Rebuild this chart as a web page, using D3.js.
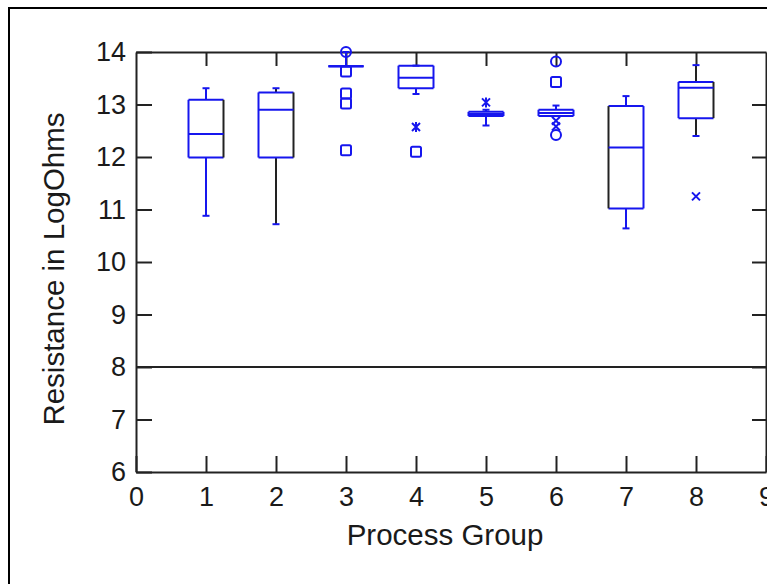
<!DOCTYPE html>
<html>
<meta charset="utf-8">
<head>
<style>
body { margin: 0; background: #fff; }
text { font-family: "Liberation Sans", Arial, sans-serif; fill: #1a1a1a; }
</style>
<script src="https://d3js.org/d3.v7.min.js"></script>
</head>
<body>
<svg width="767" height="584"></svg>
<script>
// process groups and box stats (LogOhms)
var groups    = [1, 2, 3, 4, 5, 6, 7, 8];
var whiskerLo = [10.88, 10.72, 13.73, 13.20, 12.60, 12.78, 10.64, 12.40];
var q1        = [11.99, 11.99, 13.73, 13.31, 12.78, 12.78, 11.02, 12.74];
var median    = [12.44, 12.90, 13.73, 13.51, 12.82, 12.84, 12.18, 13.32];
var q3        = [13.09, 13.23, 13.73, 13.74, 12.86, 12.90, 12.97, 13.43];
var whiskerHi = [13.31, 13.31, 14.00, 13.74, 12.90, 12.98, 13.16, 13.75];

// outliers: [group, value, marker]
var outliers = [
  [3, 14.00, "o"], [3, 13.63, "s"], [3, 13.21, "s"], [3, 13.02, "s"], [3, 12.13, "s"],
  [4, 12.57, "*"], [4, 12.10, "s"],
  [5, 13.04, "*"],
  [6, 13.82, "o"], [6, 13.43, "s"], [6, 12.69, "x"], [6, 12.58, "x"], [6, 12.42, "o"],
  [8, 11.25, "x"]
];

var xTicks = [0, 1, 2, 3, 4, 5, 6, 7, 8, 9];
var yTicks = [6, 7, 8, 9, 10, 11, 12, 13, 14];
var refLine = 8;

var blue = "#1616ee", dark = "#222";
// edges that came out black in the original
var darkParts = {1: ["right"], 2: ["right", "whiskers"], 7: ["left"], 8: ["right", "whiskers"]};

var svg = d3.select("svg");

var x = d3.scaleLinear().domain([0, 9]).range([136, 766]);
var y = d3.scaleLinear().domain([6, 14]).range([472, 52]);

// outer frame
svg.append("rect")
    .attr("x", 9).attr("y", 8).attr("width", 800).attr("height", 620)
    .attr("fill", "none").attr("stroke", "#000").attr("stroke-width", 2);

function styleAxis(g) {
  g.select(".domain").attr("stroke", dark).attr("stroke-width", 2);
  g.selectAll(".tick line").attr("stroke", dark).attr("stroke-width", 2);
  g.selectAll("text").attr("font-size", 27).attr("fill", "#1a1a1a")
    .attr("font-family", "Liberation Sans, Arial, sans-serif");
}

svg.append("g")
    .attr("transform", "translate(0," + y(6) + ")")
    .call(d3.axisBottom(x).tickValues(xTicks).tickSize(-16).tickSizeOuter(0).tickPadding(15).tickFormat(d3.format("d")))
    .call(styleAxis);

svg.append("g")
    .attr("transform", "translate(" + x(0) + ",0)")
    .call(d3.axisLeft(y).tickValues(yTicks).tickSize(-16).tickSizeOuter(0).tickPadding(10).tickFormat(d3.format("d")))
    .call(styleAxis);

svg.append("g")
    .attr("transform", "translate(0," + y(14) + ")")
    .call(d3.axisTop(x).tickValues(groups).tickSize(-14).tickSizeOuter(0).tickFormat(""))
    .call(styleAxis);

svg.append("g")
    .attr("transform", "translate(" + x(9) + ",0)")
    .call(d3.axisRight(y).tickValues(yTicks.slice(1, -1)).tickSize(-14).tickSizeOuter(0).tickFormat(""))
    .call(styleAxis);

// reference line at 8
svg.append("line")
    .attr("x1", x(0)).attr("x2", x(9)).attr("y1", y(refLine)).attr("y2", y(refLine))
    .attr("stroke", dark).attr("stroke-width", 2);

// boxes
var halfW = (x(0.5) - x(0)) / 2, cap = 3.5;
var boxes = svg.append("g").attr("fill", "none").attr("stroke-width", 2);

groups.forEach(function(g, i) {
  var cx = x(g), parts = darkParts[g] || [];
  var col = function(p) { return parts.indexOf(p) >= 0 ? dark : blue; };
  function seg(x1, y1, x2, y2, c) {
    boxes.append("line").attr("x1", x1).attr("y1", y1).attr("x2", x2).attr("y2", y2).attr("stroke", c);
  }
  // whiskers
  seg(cx, y(q3[i]), cx, y(whiskerHi[i]), col("whiskers"));
  seg(cx, y(q1[i]), cx, y(whiskerLo[i]), col("whiskers"));
  seg(cx - cap, y(whiskerHi[i]), cx + cap, y(whiskerHi[i]), blue);
  seg(cx - cap, y(whiskerLo[i]), cx + cap, y(whiskerLo[i]), blue);
  // box
  seg(cx - halfW, y(q3[i]), cx + halfW, y(q3[i]), blue);
  seg(cx - halfW, y(q1[i]), cx + halfW, y(q1[i]), blue);
  seg(cx - halfW, y(q1[i]), cx - halfW, y(q3[i]), col("left"));
  seg(cx + halfW, y(q1[i]), cx + halfW, y(q3[i]), col("right"));
  seg(cx - halfW, y(median[i]), cx + halfW, y(median[i]), blue);
});

// outliers
var marks = svg.append("g").attr("fill", "none").attr("stroke", blue).attr("stroke-width", 2);
outliers.forEach(function(o) {
  var px = x(o[0]), py = y(o[1]);
  if (o[2] === "o") {
    marks.append("circle").attr("cx", px).attr("cy", py).attr("r", 5);
  } else if (o[2] === "s") {
    marks.append("rect").attr("x", px - 5).attr("y", py - 5).attr("width", 10).attr("height", 10).attr("rx", 1.5);
  } else if (o[2] === "x") {
    marks.append("path").attr("d", "M" + (px - 4) + "," + (py - 4) + "L" + (px + 4) + "," + (py + 4) +
                                   "M" + (px + 4) + "," + (py - 4) + "L" + (px - 4) + "," + (py + 4));
  } else {
    marks.append("path").attr("d", "M" + (px - 4) + "," + (py - 4) + "L" + (px + 4) + "," + (py + 4) +
                                   "M" + (px + 4) + "," + (py - 4) + "L" + (px - 4) + "," + (py + 4) +
                                   "M" + px + "," + (py - 5) + "L" + px + "," + (py + 5));
  }
});

// axis titles
svg.append("text")
    .attr("x", 445).attr("y", 545)
    .attr("text-anchor", "middle").attr("font-size", 29.5)
    .text("Process Group");

svg.append("text")
    .attr("transform", "translate(64,269) rotate(-90)")
    .attr("text-anchor", "middle").attr("font-size", 29.5)
    .text("Resistance in LogOhms");
</script>
</body>
</html>
